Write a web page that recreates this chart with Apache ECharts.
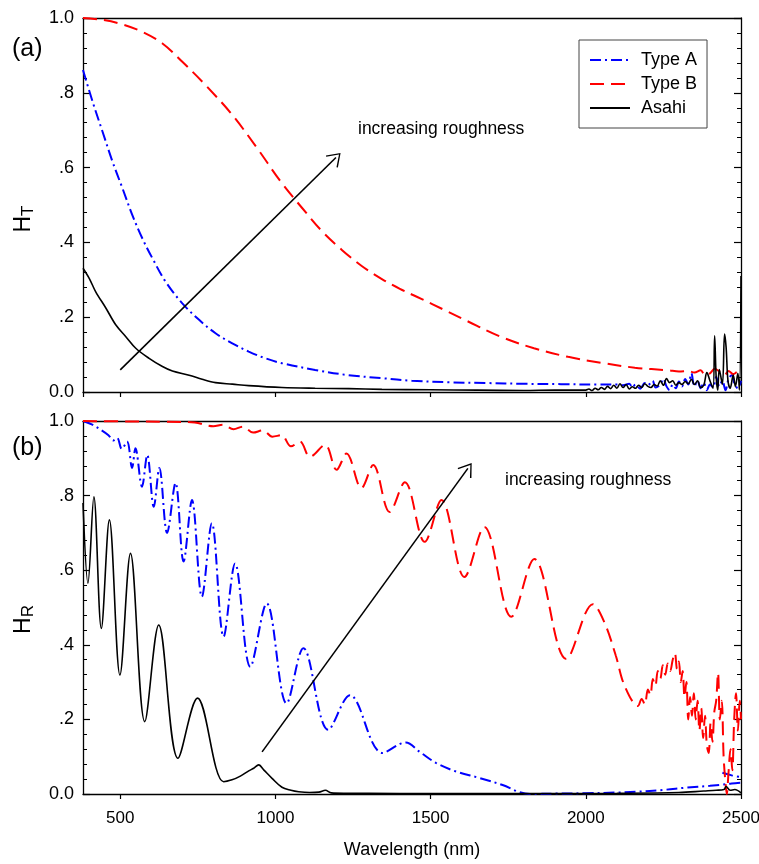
<!DOCTYPE html>
<html>
<head>
<meta charset="utf-8">
<script src="https://cdn.jsdelivr.net/npm/echarts@6/dist/echarts.min.js"></script>
<style>
  html, body { margin: 0; padding: 0; background: #fff; }
  #chart { width: 759px; height: 864px; }
</style>
</head>
<body>
<div id="chart"></div>
<script>
// ---- panel (a): H_T ----
const htTypeA_nm = [380, 411, 443, 475, 507, 539, 571, 604, 646, 700, 754, 807, 861, 914, 968, 1021, 1128, 1236, 1343, 1439, 1560, 1680, 1800, 1920, 2040,
  2100, 2120, 2140, 2150, 2160, 2175, 2190, 2200, 2215, 2225, 2240, 2250, 2260, 2270, 2280, 2290, 2300, 2310, 2320, 2330, 2340, 2350,
  2360, 2370, 2380, 2390, 2400, 2410, 2420, 2430, 2440, 2450, 2460, 2470, 2480, 2490, 2500];
const htTypeA = [0.861, 0.776, 0.696, 0.616, 0.545, 0.473, 0.411, 0.357, 0.295, 0.237, 0.193, 0.157, 0.130, 0.108, 0.090, 0.077, 0.059, 0.045, 0.037, 0.030, 0.026, 0.024, 0.022, 0.021, 0.020,
  0.020, 0.018, 0.022, 0.012, 0.020, 0.009, 0.024, 0.018, 0.030, 0.012, 0.020, 0.035, 0.015, 0.005, 0.020, 0.010, 0.028, 0.015, 0.035, 0.020, 0.050, 0.015,
  0.030, 0.010, 0.025, 0.005, 0.020, 0.012, 0.040, 0.015, 0.030, 0.005, 0.035, 0.045, 0.020, 0.010, 0.030];

const htTypeB_nm = [380, 443, 507, 571, 636, 700, 780, 861, 941, 1021, 1086, 1150, 1214, 1278, 1343, 1401, 1470, 1540, 1617, 1725, 1833, 1943, 2050, 2158, 2266,
  2300, 2331, 2350, 2370, 2384, 2400, 2415, 2430, 2447, 2460, 2475, 2490, 2500];
const htTypeB = [1.0, 0.995, 0.983, 0.963, 0.932, 0.883, 0.816, 0.741, 0.652, 0.558, 0.492, 0.430, 0.380, 0.337, 0.302, 0.276, 0.249, 0.221, 0.190, 0.148, 0.117, 0.094, 0.078, 0.065, 0.058,
  0.055, 0.056, 0.052, 0.058, 0.045, 0.050, 0.062, 0.055, 0.045, 0.056, 0.048, 0.054, 0.050];

const htAsahi_nm = [380, 400, 421, 454, 486, 518, 550, 593, 636, 668, 722, 764, 807, 861, 914, 1021, 1128, 1236, 1343, 1500, 1650, 1800, 1900,
  2000, 2010, 2020, 2030, 2040, 2050, 2060, 2070, 2080, 2090, 2100, 2110, 2120, 2130, 2140, 2150, 2160, 2170, 2180, 2190, 2200, 2210, 2220,
  2230, 2240, 2250, 2260, 2270, 2280, 2290, 2300, 2310, 2320, 2330, 2340, 2350, 2360, 2370, 2380, 2390, 2400, 2410, 2415, 2420, 2425, 2430,
  2440, 2447, 2452, 2458, 2465, 2475, 2482, 2490, 2495, 2500];
const htAsahi = [0.331, 0.304, 0.268, 0.224, 0.179, 0.148, 0.117, 0.090, 0.068, 0.056, 0.045, 0.034, 0.025, 0.021, 0.017, 0.012, 0.010, 0.009, 0.007, 0.006, 0.005, 0.004, 0.005,
  0.005, 0.008, 0.004, 0.010, 0.006, 0.012, 0.007, 0.015, 0.009, 0.018, 0.010, 0.022, 0.012, 0.020, 0.008, 0.014, 0.010, 0.018, 0.012, 0.022, 0.015, 0.012, 0.020,
  0.016, 0.030, 0.018, 0.036, 0.025, 0.030, 0.018, 0.025, 0.020, 0.028, 0.022, 0.034, 0.020, 0.030, 0.012, 0.018, 0.052, 0.030, 0.010, 0.150, 0.040, 0.005, 0.060,
  0.020, 0.155, 0.120, 0.030, 0.010, 0.045, 0.015, 0.050, 0.005, 0.310];

// ---- panel (b): H_R ----
const hrTypeA_nm = [380, 410, 440, 462, 478, 490, 505, 522, 538, 549, 570, 587, 608, 626, 651, 678, 704, 731, 763, 795, 833, 870, 919, 972, 1036, 1090, 1170, 1240,
  1345, 1420, 1465, 1518, 1583, 1657, 1732, 1786, 1820, 1900, 2000, 2100, 2162, 2250, 2323, 2400, 2440, 2470, 2500];
const hrTypeA = [1.0, 0.99, 0.975, 0.962, 0.948, 0.955, 0.925, 0.945, 0.874, 0.927, 0.824, 0.909, 0.770, 0.874, 0.700, 0.834, 0.623, 0.788, 0.529, 0.726, 0.422, 0.618, 0.341, 0.511, 0.243, 0.391, 0.172, 0.265,
  0.110, 0.138, 0.113, 0.083, 0.060, 0.043, 0.024, 0.005, 0.000, 0.001, 0.002, 0.004, 0.006, 0.011, 0.017, 0.022, 0.025, 0.028, 0.030];
const hrTypeA2_nm = [2440, 2470, 2500];
const hrTypeA2 = [0.057, 0.050, 0.045];

const hrTypeB_nm = [380, 500, 650, 740, 800, 830, 865, 895, 928, 960, 990, 1020, 1050, 1079, 1111, 1160, 1197, 1229, 1277, 1315, 1368, 1417, 1481, 1535, 1609, 1673,
  1760, 1834, 1937, 2023, 2060, 2097, 2125, 2168, 2180, 2190, 2200, 2208, 2216, 2224, 2232, 2240, 2248, 2256, 2264, 2272, 2280, 2287, 2294, 2300,
  2306, 2312, 2318, 2324, 2330, 2336, 2342, 2348, 2354, 2360, 2366, 2372, 2378, 2384, 2390, 2396, 2402, 2408, 2414, 2420, 2426, 2432, 2438, 2444,
  2450, 2454, 2460, 2466, 2472, 2478, 2484, 2490, 2496, 2500];
const hrTypeB = [1.0, 0.999, 0.998, 0.996, 0.986, 0.990, 0.978, 0.985, 0.969, 0.975, 0.958, 0.962, 0.932, 0.945, 0.904, 0.936, 0.869, 0.913, 0.820, 0.882, 0.756, 0.836, 0.676, 0.788, 0.582, 0.716,
  0.475, 0.630, 0.362, 0.509, 0.460, 0.370, 0.290, 0.236, 0.255, 0.240, 0.280, 0.265, 0.308, 0.290, 0.330, 0.310, 0.345, 0.320, 0.350, 0.330, 0.360, 0.378, 0.335, 0.355,
  0.300, 0.330, 0.260, 0.300, 0.200, 0.260, 0.210, 0.270, 0.200, 0.250, 0.170, 0.230, 0.150, 0.210, 0.130, 0.110, 0.190, 0.140, 0.220, 0.250, 0.325, 0.200, 0.250, 0.100,
  0.030, 0.000, 0.060, 0.120, 0.064, 0.200, 0.270, 0.170, 0.250, 0.200];

const hrAsahi_nm = [380, 396, 415, 439, 465, 499, 533, 579, 624, 686, 749, 833, 860, 887, 914, 930, 946, 963, 989, 1021, 1050, 1075, 1110, 1140, 1161, 1180, 1220,
  1300, 1500, 1800, 2100, 2300, 2380, 2420, 2445, 2452, 2465, 2480, 2500];
const hrAsahi = [0.78, 0.565, 0.797, 0.444, 0.735, 0.319, 0.645, 0.194, 0.453, 0.096, 0.257, 0.033, 0.038, 0.048, 0.062, 0.069, 0.078, 0.064, 0.042, 0.018, 0.010, 0.006, 0.004, 0.005, 0.010, 0.003, 0.002,
  0.002, 0.001, 0.001, 0.002, 0.004, 0.008, 0.010, 0.012, 0.020, 0.010, 0.012, 0.003];

// annotation arrows [start, end] in data units
const arrowA = [[500, 0.059], [1195, 0.627]];
const arrowB = [[957, 0.113], [1620, 0.873]];

const xTickLabels = ['500', '1000', '1500', '2000', '2500'];
const yTickLabels = { 0: '0.0', 0.2: '.2', 0.4: '.4', 0.6: '.6', 0.8: '.8', 1: '1.0' };

const FONT = '"Liberation Sans", Arial, sans-serif';
const zip = (xs, ys) => xs.map((x, i) => [x, ys[i]]);

const chart = echarts.init(document.getElementById('chart'));

const grids = [
  { left: 83, top: 18, width: 658, height: 374, containLabel: false, outerBoundsMode: 'none' },
  { left: 83, top: 421, width: 658, height: 373, containLabel: false, outerBoundsMode: 'none' },
];

function xAxes(gridIndex, withLabels) {
  return [
    {
      type: 'value', gridIndex, min: 380, max: 2500, position: 'bottom',
      axisLine: { show: true, onZero: false, lineStyle: { color: '#000', width: 1.3 } },
      axisTick: { show: true, inside: false, length: 5, lineStyle: { color: '#000', width: 1.2 } },
      axisLabel: {
        show: withLabels, showMinLabel: false, color: '#000', fontFamily: FONT, fontSize: 17, margin: 16,
        formatter: v => (xTickLabels.includes(String(v)) ? String(v) : ''),
      },
      splitLine: { show: false },
      name: withLabels ? 'Wavelength (nm)' : '', nameLocation: 'middle', nameGap: 47,
      nameTextStyle: { color: '#000', fontFamily: FONT, fontSize: 18 },
    },
    {
      type: 'value', gridIndex, min: 380, max: 2500, position: 'top',
      axisLine: { show: true, onZero: false, lineStyle: { color: '#000', width: 1.3 } },
      axisTick: { show: false }, axisLabel: { show: false }, splitLine: { show: false },
    },
  ];
}

function yAxes(gridIndex, name, shift) {
  const base = {
    type: 'value', gridIndex, min: 0, max: 1, interval: 0.2,
    axisLine: { show: true, onZero: false, lineStyle: { color: '#000', width: 1.3 } },
    axisTick: { show: true, inside: true, length: 7, lineStyle: { color: '#000', width: 1.2 } },
    minorTick: { show: true, splitNumber: 5, length: 4, lineStyle: { color: '#000', width: 1 } },
    splitLine: { show: false },
  };
  return [
    Object.assign({}, base, {
      position: 'left',
      axisLabel: {
        color: '#000', fontFamily: FONT, fontSize: 18, margin: 9,
        formatter: v => yTickLabels[Math.round(v * 10) / 10] || '',
      },
      name, nameLocation: 'middle', nameGap: 46, nameRotate: 90,
      nameTextStyle: {
        color: '#000', fontFamily: FONT, padding: [0, shift, 0, 0],
        rich: {
          h: { fontSize: 23, fontFamily: FONT, color: '#000' },
          s: { fontSize: 17, fontFamily: FONT, color: '#000', verticalAlign: 'bottom', padding: [10, 0, 0, 0] },
        },
      },
    }),
    Object.assign({}, base, { position: 'right', axisLabel: { show: false } }),
  ];
}

const dashA = [11, 4, 2, 4];
const dashB = [14, 7];

function series(name, data, xi, yi, color, type, width) {
  return {
    name, type: 'line', xAxisIndex: xi, yAxisIndex: yi, data,
    symbol: 'none', smooth: 0.35, animation: false,
    lineStyle: { color, width, type },
    itemStyle: { color },
  };
}

const arrowHead = 'path://M0,0 L10,14 L8.6,15 L0,2.6 L-8.6,15 L-10,14 Z';

function arrowMark(seg) {
  return {
    silent: true, symbol: ['none', arrowHead], symbolSize: [17, 13],
    label: { show: false },
    lineStyle: { color: '#000', width: 1.6, type: 'solid' },
    data: [[{ coord: seg[0] }, { coord: seg[1] }]],
  };
}

const sA = series('Type A', zip(htTypeA_nm, htTypeA), 0, 0, '#0000ff', dashA, 2);
sA.markLine = arrowMark(arrowA);
const sB2 = series('Asahi', zip(hrAsahi_nm, hrAsahi), 2, 2, '#000', 'solid', 1.6);
sB2.markLine = arrowMark(arrowB);

const option = {
  animation: false,
  backgroundColor: '#fff',
  grid: grids,
  xAxis: [...xAxes(0, false), ...xAxes(1, true)],
  yAxis: [...yAxes(0, '{h|H}{s|T}', 28), ...yAxes(1, '{h|H}{s|R}', 24)],
  legend: {
    data: ['Type A', 'Type B', 'Asahi'],
    orient: 'vertical', left: 579, top: 40,
    padding: [11, 10, 11, 10], itemGap: 6, itemWidth: 40, itemHeight: 14,
    borderColor: '#444', borderWidth: 1, selectedMode: false,
    itemStyle: { opacity: 0 },
    textStyle: { color: '#000', fontFamily: FONT, fontSize: 18, padding: [0, 0, 0, 6] },
  },
  graphic: [
    { type: 'text', left: 12, top: 37, style: { text: '(a)', fontFamily: FONT, fontSize: 25, fill: '#000' } },
    { type: 'text', left: 12, top: 436, style: { text: '(b)', fontFamily: FONT, fontSize: 25, fill: '#000' } },
    { type: 'text', left: 358, top: 120, style: { text: 'increasing roughness', fontFamily: FONT, fontSize: 17.5, fill: '#000' } },
    { type: 'text', left: 505, top: 471, style: { text: 'increasing roughness', fontFamily: FONT, fontSize: 17.5, fill: '#000' } },
  ],
  series: [
    sA,
    series('Type B', zip(htTypeB_nm, htTypeB), 0, 0, '#ff0000', dashB, 2),
    series('Asahi', zip(htAsahi_nm, htAsahi), 0, 0, '#000', 'solid', 1.6),
    series('Type A', zip(hrTypeA_nm, hrTypeA), 2, 2, '#0000ff', dashA, 2),
    series('Type A', zip(hrTypeA2_nm, hrTypeA2), 2, 2, '#0000ff', dashA, 2),
    series('Type B', zip(hrTypeB_nm, hrTypeB), 2, 2, '#ff0000', dashB, 2),
    sB2,
  ],
};

chart.setOption(option);
</script>
</body>
</html>
